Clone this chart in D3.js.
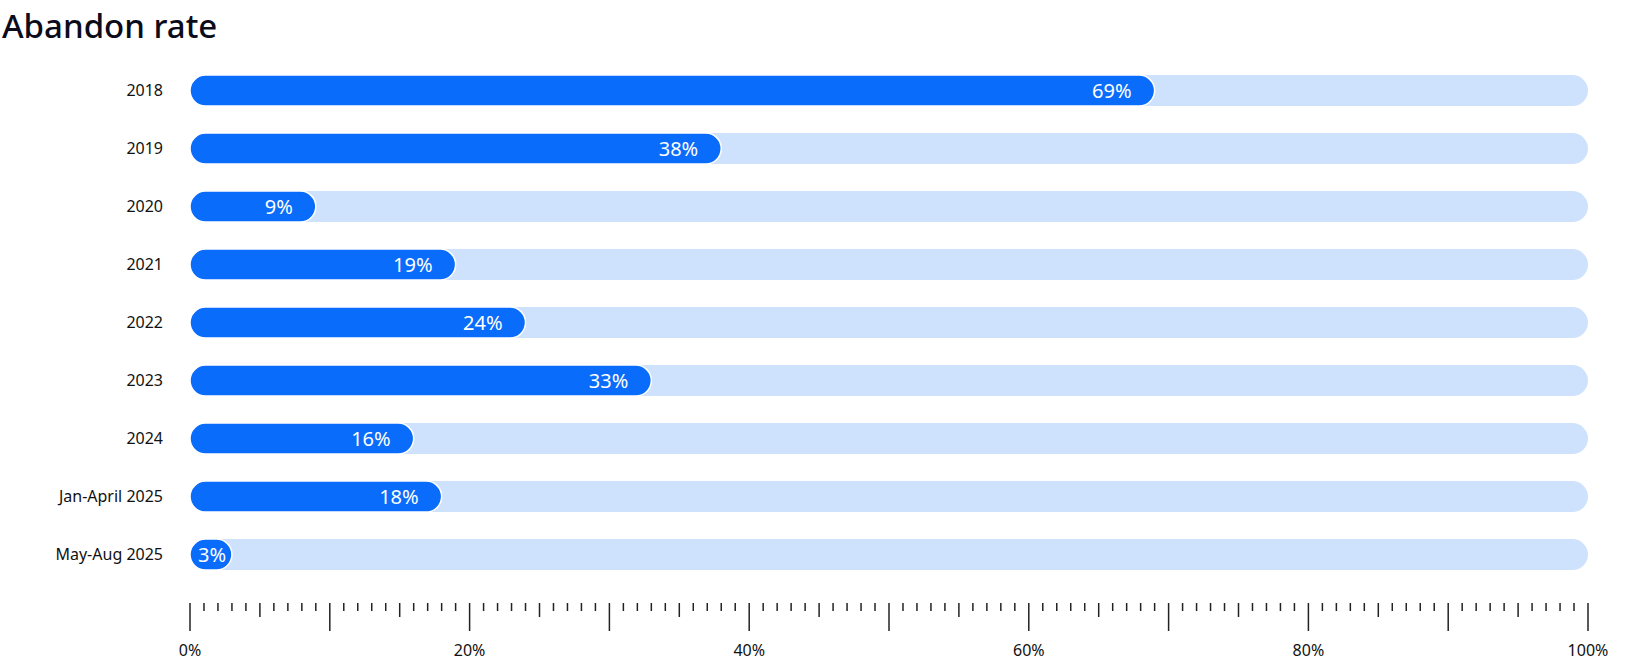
<!DOCTYPE html>
<html><head><meta charset="utf-8">
<script src="https://cdn.jsdelivr.net/npm/d3@7"></script>
<style>body{margin:0;background:#fff;font-family:"Noto Sans",sans-serif}</style>
</head><body><svg id="c" width="1635" height="668"></svg>
<script>
var categories = ['2018','2019','2020','2021','2022','2023','2024','Jan-April 2025','May-Aug 2025'];
var rates = [69, 38, 9, 19, 24, 33, 16, 18, 3];
var tickLabels = [0, 20, 40, 60, 80, 100];

var svg = d3.select('#c');
var x = d3.scaleLinear().domain([0, 100]).range([190, 1588]);
var y = d3.scaleBand().domain(categories).range([61.6, 583.6]);
var h = 31;

svg.append('text').attr('x', 2).attr('y', 38)
  .attr('font-size', 33).attr('font-weight', 500).attr('fill', '#0b0b1a')
  .text('Abandon rate');

var row = svg.selectAll('.row').data(categories).enter().append('g')
  .attr('transform', function(d) { return 'translate(0,' + (y(d) + y.bandwidth() / 2 - h / 2) + ')'; });

row.append('rect').attr('x', x(0)).attr('width', x(100) - x(0)).attr('height', h)
  .attr('rx', h / 2).attr('fill', '#cfe2fd');

function barW(i) { return Math.max(x(rates[i]) - x(0), 40); }

row.append('rect').attr('x', x(0))
  .attr('width', function(d, i) { return barW(i); })
  .attr('height', h).attr('rx', h / 2).attr('fill', '#0a6cfb')
  .attr('stroke', '#fff').attr('stroke-width', 1.5);

row.append('text')
  .attr('x', function(d, i) { return Math.max(x(0) + barW(i) - 23, x(0) + 36); })
  .attr('y', h / 2).attr('dy', '0.36em').attr('text-anchor', 'end')
  .attr('fill', '#fff').attr('font-size', 20)
  .text(function(d, i) { return rates[i] + '%'; });

row.append('text').attr('x', 163).attr('y', h / 2).attr('dy', '0.36em')
  .attr('text-anchor', 'end').attr('font-size', 16).attr('fill', '#111')
  .text(function(d) { return d; });

var ticks = d3.range(0, 101);
svg.selectAll('.tk').data(ticks).enter().append('line')
  .attr('x1', function(d) { return x(d); }).attr('x2', function(d) { return x(d); })
  .attr('y1', 603)
  .attr('y2', function(d) { return d % 10 === 0 ? 631 : d % 5 === 0 ? 617 : 611; })
  .attr('stroke', '#222').attr('stroke-width', 1.5);

svg.selectAll('.tl').data(tickLabels).enter().append('text')
  .attr('x', function(d) { return x(d); }).attr('y', 656)
  .attr('text-anchor', 'middle').attr('font-size', 16).attr('fill', '#111')
  .text(function(d) { return d + '%'; });
</script></body></html>
